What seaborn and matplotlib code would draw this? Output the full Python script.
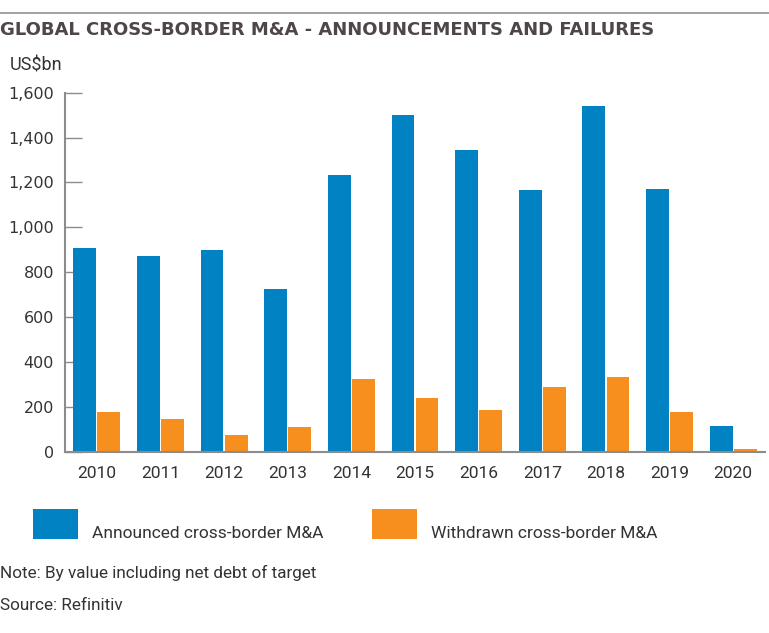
import numpy as np
import pandas as pd
import matplotlib.pyplot as plt
import seaborn as sns
from matplotlib.lines import Line2D
from matplotlib.patches import Rectangle

# data (US$bn)
years = ['2010', '2011', '2012', '2013', '2014', '2015', '2016', '2017', '2018', '2019', '2020']
announced = [910, 870, 899, 723, 1235, 1500, 1343, 1165, 1542, 1171, 114]
withdrawn = [177, 144, 74, 111, 322, 240, 188, 288, 331, 178, 10]
series_names = ['Announced cross-border M&A', 'Withdrawn cross-border M&A']
y_ticks = [0, 200, 400, 600, 800, 1000, 1200, 1400, 1600]
colors = ['#0082C3', '#F78F1F']

df = pd.DataFrame({
    'year': years * 2,
    'value': announced + withdrawn,
    'series': [series_names[0]] * len(years) + [series_names[1]] * len(years),
})

sns.set_style('white')
plt.rcParams['font.family'] = ['Roboto', 'DejaVu Sans']
text_col = '#333333'
axis_col = '#8c8c8c'

W, H = 769, 633
fig = plt.figure(figsize=(W / 100, H / 100), dpi=100)
ax = fig.add_axes([65 / W, 1 - 451.7 / H, 700 / W, 359 / H])

sns.barplot(data=df, x='year', y='value', hue='series',
            palette=colors, saturation=1, legend=False,
            width=0.755, gap=0.05, errorbar=None, linewidth=0, ax=ax)

ax.set_xlim(-0.5, 10.5)
ax.set_ylim(0, 1600)
ax.set_xlabel('')
ax.set_ylabel('')
for s in ['top', 'right']:
    ax.spines[s].set_visible(False)
for s in ['left', 'bottom']:
    ax.spines[s].set_color(axis_col)
    ax.spines[s].set_linewidth(1.5)

ax.set_yticks(y_ticks)
ax.set_yticklabels([f'{v:,}' for v in y_ticks], fontfamily='DejaVu Sans',
                   fontsize=11.5, color=text_col)
ax.tick_params(axis='y', direction='in', length=12, width=1, color=axis_col, pad=8, left=True)
ax.tick_params(axis='x', length=0, pad=10, labelsize=12.5, labelcolor=text_col)

# legend: wide coloured blocks with the label set a little lower
for i, (name, col) in enumerate(zip(series_names, colors)):
    x0 = [33, 372][i]
    fig.add_artist(Rectangle((x0 / W, 1 - 539 / H), 45 / W, 30 / H,
                             transform=fig.transFigure, color=col, lw=0))
    fig.text((x0 + 59) / W, 1 - 534 / H, name, fontsize=12.5, color=text_col, va='center')

fig.add_artist(Line2D([0, 1], [1 - 13 / H, 1 - 13 / H], transform=fig.transFigure,
                      color='#9a9a9a', lw=1.3))
fig.text(0, 1 - 30 / H, 'GLOBAL CROSS-BORDER M&A - ANNOUNCEMENTS AND FAILURES',
         fontfamily='DejaVu Sans', fontsize=13, fontweight='bold', color='#4e4647', va='center')
fig.text(10 / W, 1 - 65 / H, 'US$bn', fontsize=13, color=text_col, va='center')
fig.text(0, 1 - 573 / H, 'Note: By value including net debt of target',
         fontsize=12.3, color=text_col, va='center')
fig.text(0, 1 - 606 / H, 'Source: Refinitiv', fontsize=12.3, color=text_col, va='center')

fig.savefig('out.png', dpi=100)
